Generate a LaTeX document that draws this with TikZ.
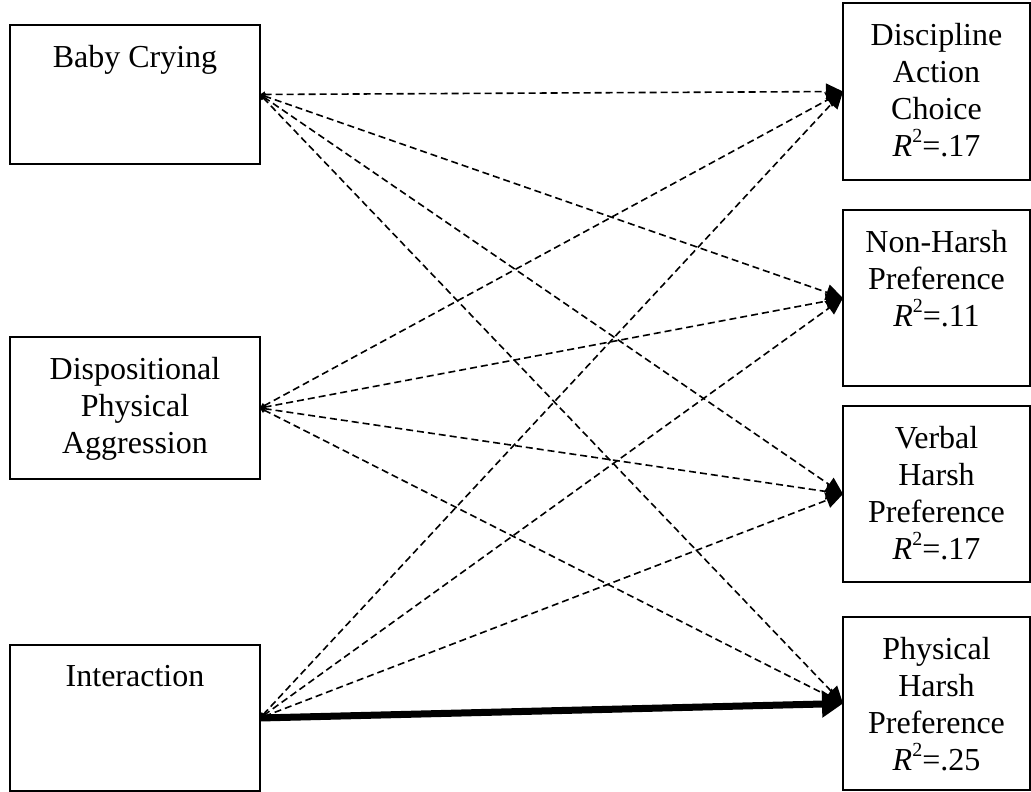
\documentclass[tikz,border=0pt]{standalone}
\usepackage{fontspec}
\setmainfont{Liberation Serif}
\usetikzlibrary{arrows.meta}

\newcommand{\rsq}{\textit{R}\raisebox{0.42em}{\fontsize{20}{20}\selectfont 2}}

\begin{document}
\begin{tikzpicture}[x=1pt, y=-1pt,
  varbox/.style={draw, line width=2pt, outer sep=0pt, inner sep=0pt},
  vartext/.style={anchor=north, align=center, inner sep=0pt, yshift=-20pt,
    font=\fontsize{32}{37}\selectfont},
  dasharrow/.style={line width=1.6pt, dash pattern=on 7pt off 4pt,
    {Triangle[length=5pt,width=6pt]}-{Triangle[length=17pt,width=16pt]}},
  mainarrow/.style={line width=7pt,
    -{Triangle[length=21pt,width=26pt]}}]

\useasboundingbox (0,0) rectangle (1031,792);

% predictors
\node [varbox, minimum width=250pt, minimum height=139pt, label={[vartext]north:Baby Crying}] (crying) at (135,94.5) {};
\node [varbox, minimum width=250pt, minimum height=142pt, label={[vartext]north:Dispositional\\Physical\\Aggression}] (aggr) at (135,408) {};
\node [varbox, minimum width=250pt, minimum height=146pt, label={[vartext]north:Interaction}] (inter) at (135,718) {};

% outcomes
\node [varbox, minimum width=187pt, minimum height=177pt, label={[vartext]north:Discipline\\Action\\Choice\\\rsq=.17}] (choice) at (936.5,91.5) {};
\node [varbox, minimum width=187pt, minimum height=176pt, label={[vartext]north:Non-Harsh\\Preference\\\rsq=.11}] (nonharsh) at (936.5,298) {};
\node [varbox, minimum width=187pt, minimum height=176pt, label={[vartext]north:Verbal\\Harsh\\Preference\\\rsq=.17}] (verbal) at (936.5,494) {};
\node [varbox, minimum width=187pt, minimum height=173pt, label={[vartext]north:Physical\\Harsh\\Preference\\\rsq=.25}] (physical) at (936.5,703.5) {};

% paths
\draw [dasharrow] (crying.east) -- (choice.west);
\draw [dasharrow] (crying.east) -- (nonharsh.west);
\draw [dasharrow] (crying.east) -- (verbal.west);
\draw [dasharrow] (crying.east) -- (physical.west);

\draw [dasharrow] (aggr.east) -- (choice.west);
\draw [dasharrow] (aggr.east) -- (nonharsh.west);
\draw [dasharrow] (aggr.east) -- (verbal.west);
\draw [dasharrow] (aggr.east) -- (physical.west);

\draw [dasharrow] (inter.east) -- (choice.west);
\draw [dasharrow] (inter.east) -- (nonharsh.west);
\draw [dasharrow] (inter.east) -- (verbal.west);
\draw [mainarrow] (inter.east) -- (physical.west);

\end{tikzpicture}
\end{document}
